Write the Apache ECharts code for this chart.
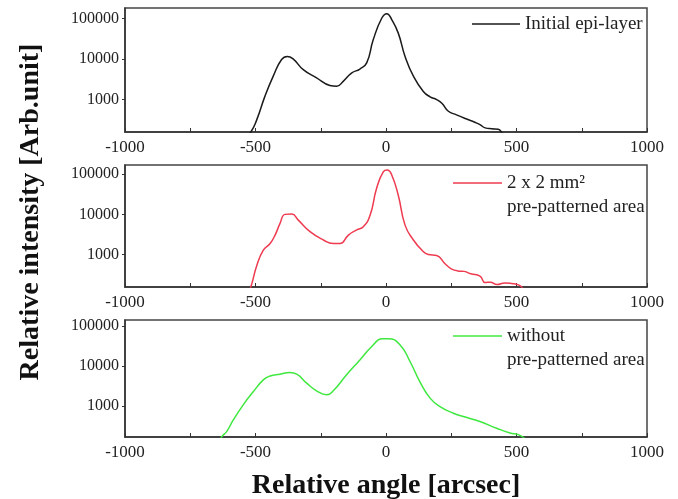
<!DOCTYPE html>
<html>
<head>
<meta charset="utf-8">
<title>Rocking curves</title>
<script src="https://cdn.jsdelivr.net/npm/echarts/dist/echarts.min.js"></script>
<style>
  html, body { margin: 0; padding: 0; background: #fff; }
  #chart { width: 678px; height: 499px; }
</style>
</head>
<body>
<div id="chart"></div>
<script>
// tick labels
const angleTicks = [-1000, -500, 0, 500, 1000];
const intensityTicks = [1000, 10000, 100000];

// panel ranges
const yMin = [158, 155, 166];
const yMax = [184000, 170000, 141000];

// legend texts
const names = ["Initial epi-layer", "2 x 2 mm²\npre-patterned area", "without\npre-patterned area"];
const colors = ["#1a1a1a", "#ee3b50", "#3fe83f"];

// [angle (arcsec), intensity]
const epiLayer = [
  [-545, 110], [-518, 158], [-495, 320], [-464, 1200], [-432, 3800], [-400, 9800],
  [-378, 11700], [-355, 10000], [-317, 5500], [-266, 3450], [-215, 2240], [-189, 2140],
  [-164, 2830], [-131, 4560], [-100, 5700], [-74, 8100], [-49, 30000], [-16, 104000],
  [3, 133000], [22, 95000], [47, 44000], [73, 11700], [105, 3800], [143, 1590],
  [169, 1170], [194, 1000], [215, 800], [239, 515], [270, 420], [309, 330],
  [340, 275], [360, 240], [380, 200], [405, 190], [430, 185], [442, 158], [450, 120]
];

const patterned = [
  [-530, 110], [-518, 155], [-495, 535], [-470, 1280], [-444, 1880], [-425, 3050],
  [-406, 5950], [-387, 10000], [-361, 10200], [-336, 7200], [-291, 3700], [-240, 2300],
  [-202, 1880], [-176, 1880], [-144, 3050], [-112, 4100], [-87, 4900], [-61, 9500],
  [-36, 44600], [-10, 116000], [5, 128000], [22, 96000], [47, 30000], [73, 5400],
  [105, 2300], [137, 1290], [162, 1000], [194, 950], [226, 590], [250, 440],
  [275, 390], [300, 380], [325, 330], [360, 290], [380, 200], [400, 205],
  [425, 178], [455, 195], [480, 190], [505, 178], [520, 155], [530, 120]
];

const unpatterned = [
  [-640, 120], [-630, 166], [-610, 230], [-585, 445], [-547, 1060], [-508, 2280],
  [-470, 4470], [-444, 5600], [-406, 6200], [-368, 6800], [-342, 6200], [-304, 3700],
  [-266, 2380], [-227, 1890], [-202, 2380], [-151, 6000], [-100, 14100], [-49, 33500],
  [-16, 48000], [9, 48000], [54, 33500], [92, 12900], [130, 4000], [169, 1560],
  [207, 960], [258, 655], [296, 540], [360, 405], [424, 275], [475, 210],
  [507, 190], [533, 150], [545, 120]
];

const curves = [epiLayer, patterned, unpatterned];

const serif = "Liberation Serif";
const axisColor = "#333";

const grids = [
  { left: 125, right: 31, top: 8, height: 124 },
  { left: 125, right: 31, top: 165, height: 122 },
  { left: 125, right: 31, top: 320, height: 117 }
];

// two-line legends get a blank first line so the line icon sits next to line one
const legendPos = [
  { left: 472, top: 12, width: 48 },
  { left: 453, top: 147, width: 49 },
  { left: 453, top: 300, width: 49 }
];

const isDecade = v => Math.abs(Math.log10(v) - Math.round(Math.log10(v))) < 1e-6;

const chart = echarts.init(document.getElementById("chart"));

chart.setOption({
  animation: false,
  grid: grids.map(g => Object.assign({
    show: true,
    borderColor: "#444",
    borderWidth: 1.5,
    backgroundColor: "transparent"
  }, g)),
  xAxis: grids.map((g, i) => ({
    type: "value",
    gridIndex: i,
    min: angleTicks[0],
    max: angleTicks[angleTicks.length - 1],
    interval: 500,
    splitLine: { show: false },
    axisLine: { onZero: false, lineStyle: { color: axisColor, width: 1.5 } },
    axisTick: { inside: true, length: 4, lineStyle: { color: axisColor } },
    minorTick: { show: true, splitNumber: 2, length: 4, lineStyle: { color: axisColor } },
    axisLabel: {
      margin: 7,
      fontFamily: serif,
      fontSize: 17,
      color: "#222",
      formatter: v => String(v)
    }
  })),
  yAxis: grids.map((g, i) => ({
    type: "log",
    logBase: 10,
    gridIndex: i,
    min: yMin[i],
    max: yMax[i],
    splitLine: { show: false },
    axisLine: { onZero: false, lineStyle: { color: axisColor, width: 1.5 } },
    axisTick: { inside: false, length: 3, lineStyle: { color: axisColor } },
    axisLabel: {
      margin: 6,
      fontFamily: serif,
      fontSize: 16,
      color: "#222",
      showMinLabel: false,
      showMaxLabel: false,
      formatter: v => (isDecade(v) && intensityTicks.includes(Math.round(v))) ? String(Math.round(v)) : ""
    }
  })),
  legend: legendPos.map((p, i) => ({
    data: [names[i]],
    left: p.left,
    top: p.top,
    padding: 0,
    orient: "vertical",
    icon: "rect",
    itemWidth: p.width,
    itemHeight: 1.5,
    selectedMode: false,
    formatter: name => name.indexOf("\n") >= 0 ? "\u00a0\n" + name : name,
    textStyle: {
      fontFamily: serif,
      fontSize: 19,
      lineHeight: 24,
      color: "#222"
    }
  })),
  graphic: [
    {
      type: "text",
      x: 31,
      y: 212,
      rotation: Math.PI / 2,
      style: {
        text: "Relative intensity [Arb.unit]",
        font: "bold 28px 'Liberation Serif'",
        fill: "#111",
        align: "center",
        verticalAlign: "middle"
      }
    },
    {
      type: "text",
      x: 386,
      y: 486,
      style: {
        text: "Relative angle [arcsec]",
        font: "bold 28px 'Liberation Serif'",
        fill: "#111",
        align: "center",
        verticalAlign: "middle"
      }
    }
  ],
  series: curves.map((d, i) => ({
    name: names[i],
    type: "line",
    xAxisIndex: i,
    yAxisIndex: i,
    data: d,
    symbol: "none",
    smooth: 0.5,
    clip: true,
    lineStyle: { color: colors[i], width: 1.5 },
    itemStyle: { color: colors[i] }
  }))
});
</script>
</body>
</html>
